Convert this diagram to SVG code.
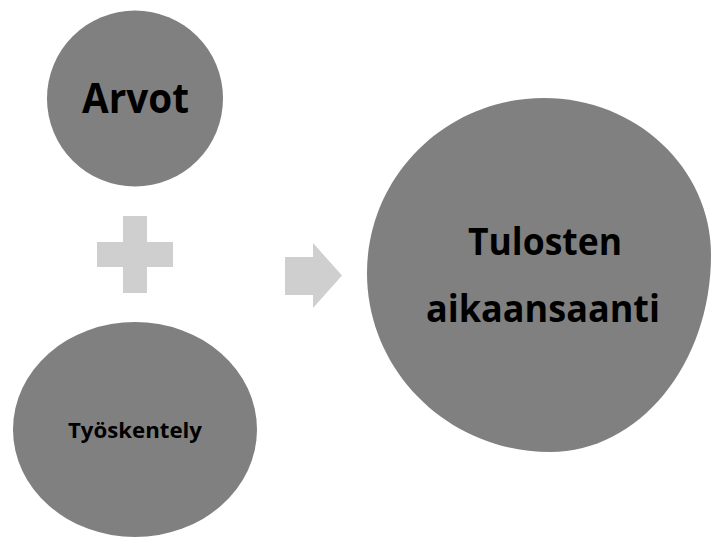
<svg xmlns="http://www.w3.org/2000/svg" width="711" height="538" viewBox="0 0 711 538">
  <style>
    .node { fill: #808080; }
    .sym { fill: #cfcfcf; }
    .label { font-family: "Open Sans", Lato, "Liberation Sans", sans-serif; font-weight: bold; fill: #000; text-anchor: middle; }
  </style>
  <rect width="711" height="538" fill="#ffffff"/>

  <g id="arvot">
    <circle class="node" cx="135" cy="98.5" r="88"/>
    <text class="label" x="135.5" y="113" font-size="41" textLength="107" lengthAdjust="spacingAndGlyphs">Arvot</text>
  </g>

  <g id="tyoskentely">
    <ellipse class="node" cx="135" cy="429.5" rx="122" ry="107.5"/>
    <text class="label" x="135" y="438" font-size="21.5" textLength="134" lengthAdjust="spacingAndGlyphs">Työskentely</text>
  </g>

  <g id="tulosten-aikaansaanti">
    <path class="node" d="M544,98 C636,98 711,168 711,255 C711,364 639,452 550,452 C449,452 367,372 367,273 C367,176 446,98 544,98 Z"/>
    <text class="label" x="545" y="255" font-size="37.5" textLength="154" lengthAdjust="spacingAndGlyphs">Tulosten</text>
    <text class="label" x="543" y="322" font-size="37.5" textLength="234" lengthAdjust="spacingAndGlyphs">aikaansaanti</text>
  </g>

  <g id="connectors">
    <path class="sym" d="M123,216 H147 V242 H173 V267 H147 V293 H123 V267 H97 V242 H123 Z"/>
    <path class="sym" d="M285,257 H313 V243 L342,275.5 L313,308 V295 H285 Z"/>
  </g>
</svg>
